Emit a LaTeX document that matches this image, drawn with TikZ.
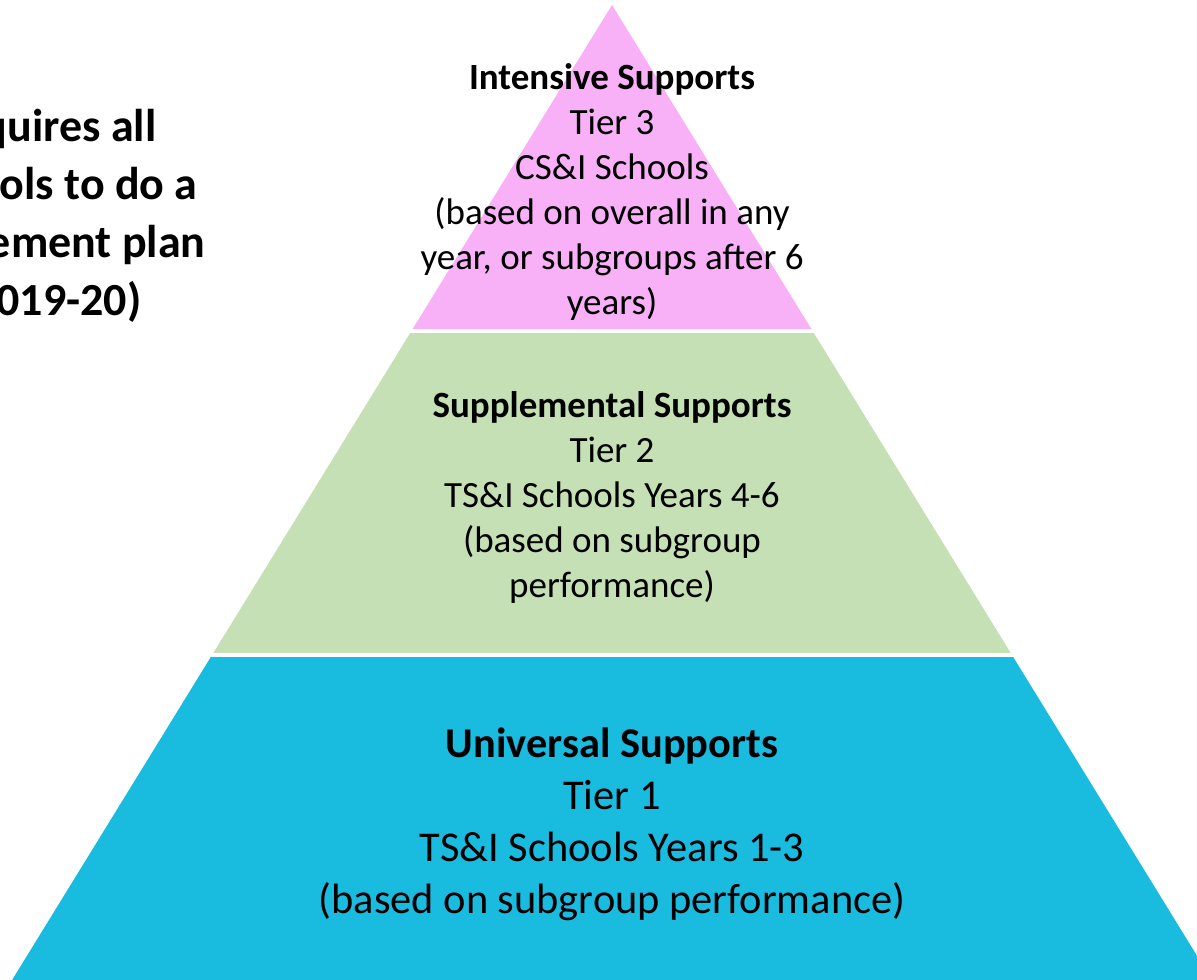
\documentclass[tikz,border=0pt]{standalone}
\usepackage{fontspec}
\setmainfont{Carlito}
\usetikzlibrary{positioning}
\definecolor{tierpink}{RGB}{248,176,246}
\definecolor{tiergreen}{RGB}{197,224,180}
\definecolor{tierblue}{RGB}{25,187,223}

\begin{document}
\begin{tikzpicture}[x=0.5pt,y=-0.5pt,
        tier/.style={align=center,inner sep=0pt,anchor=base,
            font=\fontsize{18.5}{22.5}\selectfont},
        bigtier/.style={tier,font=\fontsize{21.2}{26}\selectfont},
        note/.style={inner sep=0pt,anchor=base east,
            font=\bfseries\fontsize{23}{29}\selectfont}]
        \useasboundingbox (0,0) rectangle (1197,979);
        \clip (0,0) rectangle (1197,979);
        % Pyramid
        \coordinate (apex) at (612,5);
        \coordinate (bl) at (9,985);
        \coordinate (br) at (1215,985);
        \begin{scope}
            \clip (apex) -- (bl) -- (br) -- cycle;
            \fill[tierpink] (0,0) rectangle (1197,329); %top tier
            \fill[tiergreen] (0,333) rectangle (1197,653); %middle tier
            \fill[tierblue] (0,657) rectangle (1197,990); %bottom tier
        \end{scope}

        % Tier texts (placed at the baseline of their last line)
        \node[tier] (tier3) at (612,314) {\textbf{Intensive Supports}\\Tier 3\\CS\&I Schools\\(based on overall in any\\year, or subgroups after 6\\years)};
        \node[tier] (tier2) at (612,597) {\textbf{Supplemental Supports}\\Tier 2\\TS\&I Schools Years 4-6\\(based on subgroup\\performance)};
        \node[bigtier] (tier1) at (612,913) {\textbf{Universal Supports}\\Tier 1\\TS\&I Schools Years 1-3\\(based on subgroup performance)};

        % Side note, cut at the left border
        \node[note] (note1) at (157,141) {quires all};
        \node[note] (note2) at (198,199) {ols to do a};
        \node[note] (note3) at (206,257) {ement plan};
        \node[note] (note4) at (142,315) {019-20)};
\end{tikzpicture}
\end{document}
